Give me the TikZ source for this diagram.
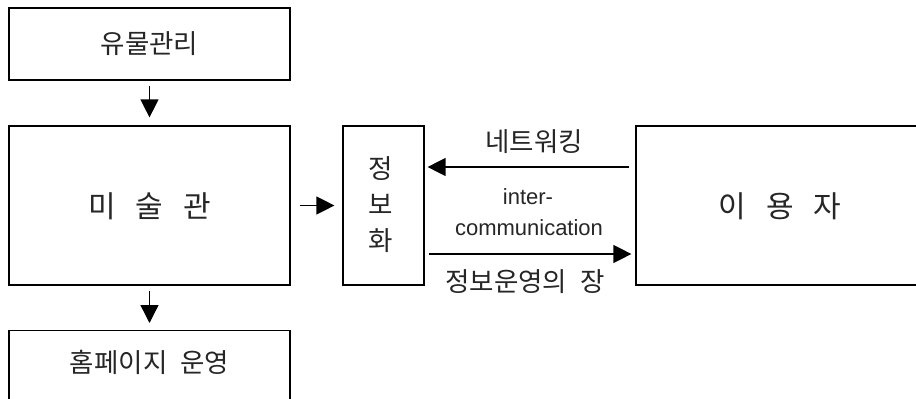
\documentclass[tikz,border=0pt]{standalone}
\usepackage{fontspec}
\setmainfont{Liberation Sans}
\newfontfamily\kr{Noto Sans CJK KR}
\usetikzlibrary{arrows.meta}
\definecolor{ink}{HTML}{262626}
\tikzset{
  box/.style={draw=black, line width=1.2pt, fill=white, inner sep=0pt},
  kt/.style={font=\kr\fontsize{26.5}{31}\selectfont, text=ink, inner sep=0pt},
  kbig/.style={font=\kr\fontsize{30}{34}\selectfont, text=ink, inner sep=0pt},
  lt/.style={font=\fontsize{22}{26}\selectfont, text=ink, inner sep=0pt},
  arr/.style={line width=1.3pt, -{Triangle[length=18pt,width=18pt]}},
}
\begin{document}
\begin{tikzpicture}[x=1pt,y=-1pt]
\clip (0,0) rectangle (916,399);
\fill[white] (0,0) rectangle (916,399);
% boxes
\node[box, minimum width=281pt, minimum height=72pt] (top) at (149.5,44) {};
\node[kt] (topt) at (149.5,44) {유물관리};
\node[box, minimum width=281pt, minimum height=159pt] (mus) at (149.5,205.5) {};
\node[kbig] (must) at (149.5,206) {미\hspace{20pt}술\hspace{20pt}관};
\node[box, minimum width=281pt, minimum height=100pt, anchor=north] (home) at (149.5,330) {};
\node[kt] (homet) at (149.5,362) {홈페이지\hspace{13pt}운영};
\node[box, minimum width=81pt, minimum height=159pt] (info) at (383.5,205.5) {};
\node[kt, align=center] (infot) at (381,205) {정\\[5pt]보\\[5pt]화};
\node[box, minimum width=288pt, minimum height=159pt] (user) at (780,205.5) {};
\node[kbig] (usert) at (780,206) {이\hspace{20pt}용\hspace{20pt}자};
% arrows
\draw[arr, shorten <=5pt, shorten >=8pt] (top.south) -- (mus.north);
\draw[arr, shorten <=5pt, shorten >=7pt] (mus.south) -- (home.north);
\draw[arr, shorten <=9pt, shorten >=8pt] (mus.east) -- (info.west);
\draw[arr, shorten <=6pt, shorten >=3pt] ([yshift=38.5pt]user.west) -- ([yshift=38.5pt]info.east);
\draw[arr, shorten <=4pt, shorten >=4pt] ([yshift=-48.5pt]info.east) -- ([yshift=-48.5pt]user.west);
% labels
\node[kt] (l1) at (534,142) {네트워킹};
\node[lt] (l2) at (528,197) {inter-};
\node[lt] (l3) at (529,228) {communication};
\node[kt] (l4) at (525,282) {정보운영의\hspace{13pt}장};
\end{tikzpicture}
\end{document}
